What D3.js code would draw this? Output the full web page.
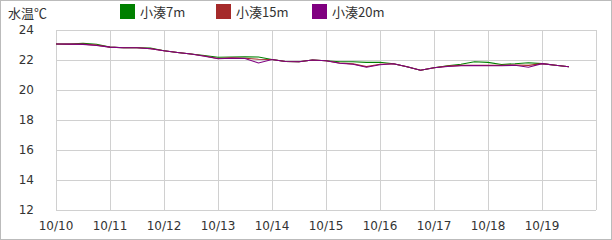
<!DOCTYPE html>
<meta charset="utf-8">
<style>
  body { margin: 0; }
  text { font-family: "DejaVu Sans", Verdana, sans-serif; fill: #333; }
  .jp { font-family: "Noto Sans CJK JP", sans-serif; }
</style>
<svg width="612" height="240"></svg>
<script src="https://d3js.org/d3.v7.min.js"></script>
<script>
// 6-hourly readings starting 10/10 00:00
var start = new Date(2019, 9, 10, 0, 0)
var series = ["小湊7m", "小湊15m", "小湊20m"]
var colors = ["#008000", "#a52a2a", "#800080"]
var dayTicks = ["10/10", "10/11", "10/12", "10/13", "10/14", "10/15", "10/16", "10/17", "10/18", "10/19"]
var yTicks = [12, 14, 16, 18, 20, 22, 24]

var temp7 = [23.07, 23.06, 23.12, 23.05, 22.86, 22.82, 22.82, 22.80, 22.62, 22.50,
  22.40, 22.30, 22.18, 22.20, 22.22, 22.20, 22.03, 21.90, 21.88, 22.00,
  21.95, 21.88, 21.88, 21.84, 21.85, 21.75, 21.55, 21.32, 21.48, 21.62,
  21.72, 21.88, 21.84, 21.70, 21.75, 21.82, 21.76, 21.65, 21.55]
var temp15 = [23.07, 23.06, 23.06, 22.99, 22.86, 22.82, 22.82, 22.76, 22.62, 22.50,
  22.40, 22.27, 22.10, 22.14, 22.12, 22.05, 22.03, 21.90, 21.88, 22.00,
  21.95, 21.80, 21.74, 21.56, 21.72, 21.75, 21.55, 21.32, 21.48, 21.59,
  21.64, 21.65, 21.64, 21.64, 21.67, 21.64, 21.76, 21.65, 21.55]
var temp20 = [23.07, 23.06, 23.04, 22.97, 22.86, 22.82, 22.82, 22.75, 22.62, 22.50,
  22.40, 22.25, 22.08, 22.12, 22.10, 21.80, 22.03, 21.90, 21.88, 22.00,
  21.95, 21.78, 21.72, 21.52, 21.68, 21.75, 21.55, 21.32, 21.48, 21.57,
  21.62, 21.63, 21.62, 21.62, 21.65, 21.52, 21.76, 21.65, 21.55]
var values = [temp7, temp15, temp20]

var svg = d3.select("svg")
var plotL = 56, plotR = 596, plotT = 30, plotB = 210

svg.append("rect").attr("x", 0.5).attr("y", 0.5).attr("width", 611).attr("height", 239)
  .attr("fill", "#fff").attr("stroke", "#bbb")

var x = d3.scaleTime()
  .domain([start, d3.timeDay.offset(start, 10)])
  .range([plotL, plotR])
var y = d3.scaleLinear().domain([12, 24]).range([plotB, plotT])

var days = d3.range(11).map(function (i) { return d3.timeDay.offset(start, i) })

// grid
var grid = svg.append("g").attr("stroke", "#d0d0d0").attr("shape-rendering", "crispEdges")
grid.selectAll(".v").data(days).enter().append("line")
  .attr("x1", function (d) { return Math.round(x(d)) + 0.5 })
  .attr("x2", function (d) { return Math.round(x(d)) + 0.5 })
  .attr("y1", plotT).attr("y2", plotB)
grid.selectAll(".h").data(yTicks).enter().append("line")
  .attr("x1", plotL).attr("x2", plotR)
  .attr("y1", function (d) { return Math.round(y(d)) + 0.5 })
  .attr("y2", function (d) { return Math.round(y(d)) + 0.5 })

// tick labels
svg.append("g").selectAll("text").data(yTicks).enter().append("text")
  .attr("x", 34).attr("y", function (d) { return y(d) })
  .attr("dy", "0.35em").attr("text-anchor", "end").attr("font-size", 12)
  .text(function (d) { return d })
svg.append("g").selectAll("text").data(dayTicks).enter().append("text")
  .attr("x", function (d, i) { return x(days[i]) })
  .attr("y", 226).attr("dy", "0.35em").attr("text-anchor", "middle").attr("font-size", 12)
  .text(function (d) { return d })

svg.append("text").attr("class", "jp").attr("x", 8).attr("y", 13).attr("dy", "0.35em")
  .attr("font-size", 13).text("水温℃")

// lines
var line = d3.line()
  .x(function (d, i) { return x(d3.timeHour.offset(start, i * 6)) })
  .y(function (d) { return y(d) })
svg.append("g").selectAll("path").data(values).enter().append("path")
  .attr("d", line).attr("fill", "none")
  .attr("stroke", function (d, i) { return colors[i] })
  .attr("stroke-width", 1.1)

// legend
var legendX = [120, 216, 312]
var lg = svg.append("g").selectAll("g").data(series).enter().append("g")
  .attr("transform", function (d, i) { return "translate(" + legendX[i] + ",4)" })
lg.append("rect").attr("width", 15).attr("height", 15)
  .attr("fill", function (d, i) { return colors[i] })
lg.append("text").attr("class", "jp").attr("x", 20).attr("y", 8).attr("dy", "0.35em")
  .attr("font-size", 13).text(function (d) { return d })
</script>
